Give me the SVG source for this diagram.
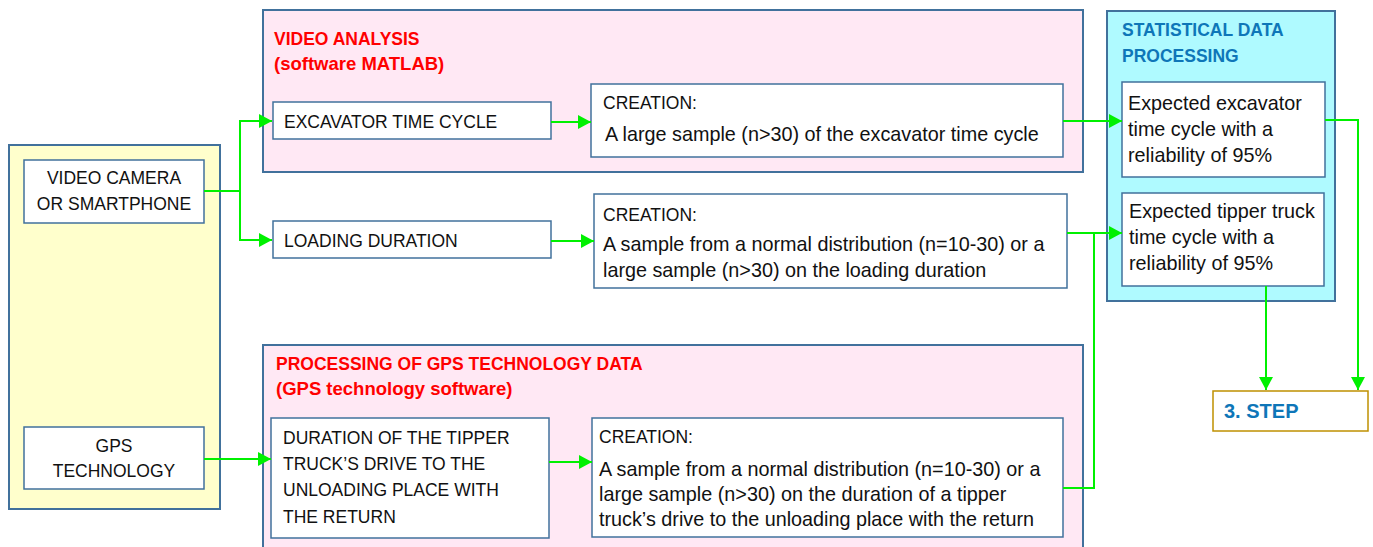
<svg xmlns="http://www.w3.org/2000/svg" width="1373" height="547" viewBox="0 0 1373 547">
<style>
text{font-family:"Liberation Sans",Arial,sans-serif;font-size:17.5px;fill:#111}
.m{font-size:19.8px}
.box{fill:#fff;stroke:#41719C;stroke-width:1.5}
.pink{fill:#FFE8F4;stroke:#41719C;stroke-width:2}
.red{fill:#FF0000;font-weight:bold}
.rm{font-size:18.5px}
.blue{fill:#0E76B8;font-weight:bold}
.con{fill:none;stroke:#00F000;stroke-width:2}
</style>
<defs>
<marker id="ah" markerUnits="userSpaceOnUse" markerWidth="14" markerHeight="14" refX="13" refY="7" orient="auto">
<path d="M0,0 L13,7 L0,14 z" fill="#00F000"/>
</marker>
</defs>
<rect width="1373" height="547" fill="#fff"/>
<g id="sources">
<rect x="9" y="145" width="211" height="364" fill="#FFFFCC" stroke="#41719C" stroke-width="2"/>
</g>
<g id="video-camera">
<rect class="box" x="24" y="160" width="180" height="63"/>
<text x="114" y="184" text-anchor="middle">VIDEO CAMERA</text>
<text x="114" y="210" text-anchor="middle">OR SMARTPHONE</text>
</g>
<g id="gps">
<rect class="box" x="24" y="427" width="180" height="62"/>
<text x="114" y="452" text-anchor="middle">GPS</text>
<text x="114" y="477" text-anchor="middle">TECHNOLOGY</text>
</g>
<g id="video-analysis">
<rect class="pink" x="263" y="10" width="820" height="162"/>
<text class="red" x="274" y="45">VIDEO ANALYSIS</text>
<text class="red rm" x="274" y="70">(software MATLAB)</text>
</g>
<g id="excavator-cycle">
<rect class="box" x="273" y="102" width="278" height="37"/>
<text x="284" y="128">EXCAVATOR TIME CYCLE</text>
</g>
<g id="creation-1">
<rect class="box" x="591" y="84" width="472" height="73"/>
<text x="603" y="109">CREATION:</text>
<text class="m" x="605" y="141">A large sample (n&gt;30) of the excavator time cycle</text>
</g>
<g id="loading-duration">
<rect class="box" x="273" y="221" width="278" height="37"/>
<text x="284" y="247">LOADING DURATION</text>
</g>
<g id="creation-2">
<rect class="box" x="594" y="194" width="473" height="94"/>
<text x="603" y="221">CREATION:</text>
<text class="m" x="603" y="251">A sample from a normal distribution (n=10-30) or a</text>
<text class="m" x="603" y="277">large sample (n&gt;30) on the loading duration</text>
</g>
<g id="gps-processing">
<rect class="pink" x="263" y="345" width="820" height="210"/>
<text class="red" x="276" y="370">PROCESSING OF GPS TECHNOLOGY DATA</text>
<text class="red rm" x="276" y="395">(GPS technology software)</text>
</g>
<g id="drive-duration">
<rect class="box" x="271" y="418" width="278" height="120"/>
<text x="283" y="444">DURATION OF THE TIPPER</text>
<text x="283" y="470">TRUCK’S DRIVE TO THE</text>
<text x="283" y="496">UNLOADING PLACE WITH</text>
<text x="283" y="523">THE RETURN</text>
</g>
<g id="creation-3">
<rect class="box" x="592" y="418" width="471" height="119"/>
<text x="599" y="443">CREATION:</text>
<text class="m" x="599" y="476">A sample from a normal distribution (n=10-30) or a</text>
<text class="m" x="599" y="501">large sample (n&gt;30) on the duration of a tipper</text>
<text class="m" x="599" y="526">truck’s drive to the unloading place with the return</text>
</g>
<g id="statistical">
<rect x="1107" y="11" width="228" height="290" fill="#AFFAFF" stroke="#41719C" stroke-width="2"/>
<text class="blue" x="1122" y="36">STATISTICAL DATA</text>
<text class="blue" x="1122" y="62">PROCESSING</text>
</g>
<g id="expected-excavator">
<rect class="box" x="1122" y="82" width="203" height="95"/>
<text class="m" x="1128" y="110">Expected excavator</text>
<text class="m" x="1128" y="136">time cycle with a</text>
<text class="m" x="1128" y="162">reliability of 95%</text>
</g>
<g id="expected-tipper">
<rect class="box" x="1122" y="193" width="202" height="93"/>
<text class="m" x="1129" y="218">Expected tipper truck</text>
<text class="m" x="1129" y="244">time cycle with a</text>
<text class="m" x="1129" y="270">reliability of 95%</text>
</g>
<g id="step-3">
<rect x="1213" y="391" width="155" height="40" fill="#fff" stroke="#BF9000" stroke-width="1.5"/>
<text class="blue" x="1224" y="418" style="font-size:20px">3. STEP</text>
</g>
<g id="connectors">
<path class="con" d="M204,191 H240"/>
<path class="con" d="M240,191 V121 H272" marker-end="url(#ah)"/>
<path class="con" d="M240,191 V240 H272" marker-end="url(#ah)"/>
<path class="con" d="M551,122 H591" marker-end="url(#ah)"/>
<path class="con" d="M551,241 H594" marker-end="url(#ah)"/>
<path class="con" d="M204,459 H271" marker-end="url(#ah)"/>
<path class="con" d="M549,462 H592" marker-end="url(#ah)"/>
<path class="con" d="M1063,121 H1122" marker-end="url(#ah)"/>
<path class="con" d="M1067,233 H1122" marker-end="url(#ah)"/>
<path class="con" d="M1063,488 H1094 V233"/>
<path class="con" d="M1325,120 H1358 V390" marker-end="url(#ah)"/>
<path class="con" d="M1266,286 V390" marker-end="url(#ah)"/>
</g>
</svg>
